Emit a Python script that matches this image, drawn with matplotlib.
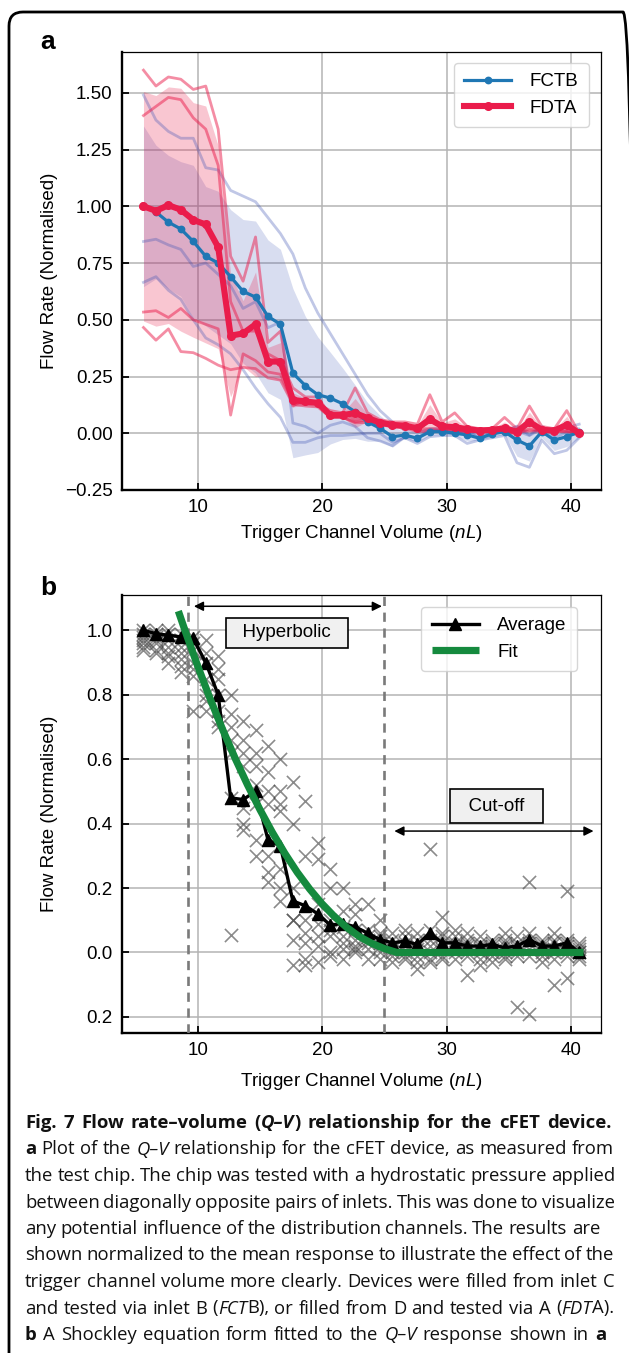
import matplotlib
matplotlib.use("Agg")
import matplotlib.pyplot as plt
import numpy as np
from matplotlib.patches import FancyBboxPatch
from matplotlib.transforms import IdentityTransform

# ---------------- data ----------------
volume = [5.65, 6.65, 7.65, 8.65, 9.65, 10.65, 11.65, 12.65, 13.65, 14.65, 15.65, 16.65,
          17.65, 18.65, 19.65, 20.65, 21.65, 22.65, 23.65, 24.65, 25.65, 26.65, 27.65, 28.65,
          29.65, 30.65, 31.65, 32.65, 33.65, 34.65, 35.65, 36.65, 37.65, 38.65, 39.65, 40.65]

# FCTB individual devices (panel a)
fctb_1 = [1.49, 1.38, 1.33, 1.30, 1.30, 1.17, 1.16, 1.07, 1.045, 1.02, 0.95, 0.88, 0.79, 0.64, 0.53, 0.44,
          0.35, 0.26, 0.17, 0.10, 0.05, 0.01, 0.0, 0.02, 0.02, 0.01, 0.01, -0.01, 0.0, 0.02, 0.01, -0.01,
          0.02, 0.02, 0.025, 0.04]
fctb_2 = [0.845, 0.855, 0.83, 0.81, 0.735, 0.75, 0.70, 0.65, 0.55, 0.58, 0.465, 0.49, 0.045, 0.03, 0.0,
          0.035, 0.05, 0.03, -0.02, -0.034, -0.055, -0.014, -0.021, 0.016, 0.011, 0.0, 0.014, -0.026,
          0.011, 0.011, 0.03, -0.008, 0.031, -0.02, 0.005, -0.005]
fctb_3 = [0.665, 0.69, 0.63, 0.59, 0.50, 0.42, 0.39, 0.35, 0.28, 0.20, 0.13, 0.07, -0.04, -0.04, -0.02,
          -0.01, -0.01, -0.005, 0.0, 0.0, -0.04, -0.02, -0.045, -0.015, -0.01, -0.01, -0.045, -0.03,
          -0.02, -0.01, -0.13, -0.15, -0.03, -0.09, -0.075, -0.02]

# FDTA individual devices (panel a)
fdta_1 = [1.60, 1.53, 1.57, 1.56, 1.515, 1.53, 1.34, 0.78, 0.67, 0.865, 0.40, 0.45, 0.12, 0.15, 0.13, 0.10,
          0.09, 0.20, 0.09, 0.06, 0.05, 0.05, 0.04, 0.17, 0.05, 0.09, 0.03, 0.02, 0.02, 0.07, 0.02, 0.12,
          0.03, 0.02, 0.10, 0.0]
fdta_2 = [1.40, 1.44, 1.48, 1.47, 1.39, 1.34, 1.18, 0.58, 0.45, 0.45, 0.35, 0.32, 0.20, 0.16, 0.16, 0.08,
          0.09, 0.06, 0.07, 0.05, 0.04, 0.03, 0.02, 0.05, 0.04, 0.01, 0.02, 0.01, 0.02, 0.01, 0.0, 0.05,
          0.01, 0.01, 0.03, 0.0]
fdta_3 = [0.534, 0.54, 0.51, 0.55, 0.50, 0.48, 0.46, 0.08, 0.35, 0.32, 0.27, 0.26, 0.14, 0.13, 0.13, 0.07,
          0.07, 0.05, 0.06, 0.04, 0.03, 0.03, 0.02, 0.02, 0.02, 0.0, 0.01, 0.01, 0.01, 0.0, 0.0, 0.02,
          0.01, 0.01, 0.01, 0.0]
fdta_4 = [0.466, 0.41, 0.46, 0.36, 0.355, 0.33, 0.30, 0.28, 0.29, 0.285, 0.244, 0.234, 0.128, 0.12, 0.116,
          0.07, 0.07, 0.046, 0.048, 0.038, 0.028, 0.022, 0.008, 0.008, 0.01, 0.008, 0.012, 0.008, 0.01,
          0.008, 0.008, 0.01, 0.01, 0.008, 0.008, 0.0]

# Panel b: normalised individual measurements (one list per device)
dev_1 = [1.0, 1.0, 1.0, 0.99, 0.98, 0.97, 0.92, 0.80, 0.72, 0.69, 0.64, 0.60, 0.53, 0.47, 0.34, 0.26, 0.20,
         0.15, 0.15, 0.10, 0.06, 0.05, 0.06, 0.32, 0.11, 0.07, 0.06, 0.05, 0.04, 0.06, 0.05, 0.22, 0.04,
         0.06, 0.19, 0.03]
dev_2 = [0.99, 0.98, 0.99, 0.97, 0.96, 0.93, 0.88, 0.74, 0.66, 0.62, 0.56, 0.50, 0.40, 0.30, 0.29, 0.20,
         0.13, 0.12, 0.07, 0.05, 0.04, 0.03, 0.04, 0.07, 0.06, 0.05, 0.04, 0.03, 0.03, 0.04, 0.03, 0.06,
         0.02, 0.03, 0.04, 0.02]
dev_3 = [0.98, 0.97, 0.97, 0.95, 0.94, 0.90, 0.85, 0.70, 0.62, 0.58, 0.50, 0.46, 0.20, 0.10, 0.15, 0.10,
         0.08, 0.07, 0.05, 0.03, 0.02, 0.02, 0.01, 0.04, 0.03, 0.03, 0.02, 0.02, 0.01, 0.02, 0.01, 0.03,
         0.01, 0.01, 0.02, 0.01]
dev_4 = [0.97, 0.96, 0.95, 0.93, 0.90, 0.85, 0.80, 0.66, 0.58, 0.52, 0.46, 0.44, 0.10, 0.06, 0.09, 0.07,
         0.05, 0.04, 0.03, 0.02, 0.0, 0.0, -0.01, 0.02, 0.01, 0.01, 0.0, 0.0, 0.0, 0.0, 0.0, 0.01, 0.0,
         0.0, 0.0, 0.0]
dev_5 = [0.96, 0.94, 0.93, 0.91, 0.88, 0.80, 0.75, 0.62, 0.45, 0.46, 0.30, 0.26, 0.04, 0.03, 0.05, 0.05,
         0.03, 0.02, 0.01, 0.0, -0.01, -0.01, -0.03, 0.0, -0.01, 0.0, -0.01, -0.02, -0.01, -0.01, -0.01,
         -0.01, -0.01, -0.02, -0.01, -0.01]
dev_6 = [0.95, 0.93, 0.92, 0.89, 0.86, 0.78, 0.72, 0.48, 0.40, 0.35, 0.25, 0.20, -0.04, -0.02, -0.03, 0.0,
         0.01, 0.0, -0.02, -0.02, -0.03, -0.02, -0.05, -0.02, -0.02, -0.02, -0.07, -0.04, -0.03, -0.02,
         -0.17, -0.19, -0.03, -0.10, -0.08, -0.02]
dev_7 = [0.94, 0.99, 0.90, 0.87, 0.75, 0.75, 0.70, 0.055, 0.38, 0.30, 0.22, 0.16, 0.10, -0.04, 0.02, -0.01,
         -0.02, 0.01, 0.04, 0.06, 0.01, 0.07, 0.02, -0.03, 0.05, 0.02, 0.03, 0.01, 0.02, 0.03, 0.02, 0.04,
         0.03, 0.04, 0.03, 0.0]

average_b = [1.0, 0.99, 0.985, 0.98, 0.975, 0.90, 0.80, 0.48, 0.475, 0.50, 0.35, 0.33, 0.16, 0.145, 0.12,
             0.085, 0.09, 0.08, 0.06, 0.04, 0.03, 0.035, 0.025, 0.06, 0.03, 0.03, 0.02, 0.02, 0.025, 0.015,
             0.02, 0.04, 0.02, 0.02, 0.03, 0.0]

fit_x = [8.45, 9, 10, 11, 12, 13, 14, 15, 16, 17, 18, 19, 20, 21, 22, 23, 24, 25, 26, 41]
fit_y = [1.06, 0.998, 0.89, 0.788, 0.693, 0.604, 0.521, 0.444, 0.373, 0.308, 0.249, 0.197, 0.151,
         0.111, 0.077, 0.049, 0.028, 0.012, 0.0, 0.0]

ticks_b = [-0.2, 0.0, 0.2, 0.4, 0.6, 0.8, 1.0]
ticklabels_b = ["0.2", "0.0", "0.2", "0.4", "0.6", "0.8", "1.0"]

# ---------------- style ----------------
plt.rcParams["font.family"] = ["Liberation Sans", "DejaVu Sans"]
plt.rcParams["mathtext.fontset"] = "custom"
plt.rcParams["mathtext.rm"] = "Liberation Sans"
plt.rcParams["mathtext.it"] = "Liberation Sans:italic"

BLUE = "#1f77b4"
RED = "#ea1c4b"
LAV = "#4055b5"
GREEN = "#158a3e"
FS = 13.5

W, H = 629, 1353
fig = plt.figure(figsize=(W / 100, H / 100), dpi=100)


def px_axes(left, top, right, bottom):
    return fig.add_axes([left / W, 1 - bottom / H, (right - left) / W, (bottom - top) / H])


def style(ax):
    ax.grid(True, color="#b4b4b4", lw=1.1)
    ax.set_axisbelow(True)
    for s in ["left", "bottom"]:
        ax.spines[s].set_linewidth(1.7)
    for s in ["top", "right"]:
        ax.spines[s].set_linewidth(0.9)
    ax.tick_params(direction="in", length=5, width=1.3, labelsize=FS, pad=6.5)


ax1 = px_axes(121.7, 52, 601, 490)
ax2 = px_axes(121.7, 595, 601, 1033)

# ---------------- panel a ----------------
x = np.array(volume)
fctb = np.array([fctb_1, fctb_2, fctb_3])
fdta = np.array([fdta_1, fdta_2, fdta_3, fdta_4])
fctb_mean, fctb_std = fctb.mean(axis=0), fctb.std(axis=0)
fdta_mean, fdta_std = fdta.mean(axis=0), fdta.std(axis=0)

ax1.fill_between(x, fctb_mean - fctb_std, fctb_mean + fctb_std, color=LAV, alpha=0.2, lw=0, zorder=1)
ax1.fill_between(x, fdta_mean - fdta_std, fdta_mean + fdta_std, color=RED, alpha=0.25, lw=0, zorder=1)
for tr in fctb:
    ax1.plot(x, tr, color=LAV, alpha=0.33, lw=2.0, zorder=2)
for tr in fdta:
    ax1.plot(x, tr, color=RED, alpha=0.5, lw=2.0, zorder=2)
l_b, = ax1.plot(x, fctb_mean, color=BLUE, lw=2.3, marker="o", ms=4.6, zorder=4, label="FCTB")
l_r, = ax1.plot(x, fdta_mean, color=RED, lw=4.4, marker="o", ms=5.5, zorder=5, label="FDTA")

style(ax1)
ax1.set_xlim(3.9, 42.4)
ax1.set_ylim(-0.25, 1.68)
ax1.set_yticks([-0.25, 0.0, 0.25, 0.5, 0.75, 1.0, 1.25, 1.5])
ax1.set_xticks([10, 20, 30, 40])
ax1.set_xlabel(r"Trigger Channel Volume $\it{(nL)}$", fontsize=FS)
ax1.set_ylabel("Flow Rate (Normalised)", fontsize=FS)
ax1.xaxis.set_label_coords(0.5, -(533.3 - 490) / 438)
ax1.xaxis.label.set_va("center")
ax1.yaxis.set_label_coords((50 - 121.7) / 479.3, 0.5)
ax1.yaxis.label.set_va("center")
ax1.legend(handles=[l_b, l_r], loc="upper right", bbox_to_anchor=(0.975, 0.975),
           borderaxespad=0, fontsize=FS, handlelength=2.5, handletextpad=1.0, numpoints=1,
           borderpad=0.55)

# ---------------- panel b ----------------
for dev in [dev_1, dev_2, dev_3, dev_4, dev_5, dev_6, dev_7]:
    ax2.scatter(x, dev, marker="x", s=90, color="#444444", alpha=0.62, linewidths=1.2, zorder=2)
l_avg, = ax2.plot(x, average_b, color="black", lw=2.4, marker="^", ms=9, zorder=4, label="Average")
l_fit, = ax2.plot(fit_x, fit_y, color=GREEN, lw=5.2, zorder=5, label="Fit", solid_capstyle="butt")

ax2.axvline(9.2, color="#7a7a7a", lw=1.9, ls=(0, (3.5, 2.5)), zorder=3)
ax2.axvline(25.0, color="#7a7a7a", lw=1.9, ls=(0, (3.5, 2.5)), zorder=3)
ax2.annotate("", xy=(24.8, 1.075), xytext=(9.7, 1.075),
             arrowprops=dict(arrowstyle="<|-|>", color="black", lw=1.1, mutation_scale=14,
                             shrinkA=0, shrinkB=0))
ax2.annotate("", xy=(41.8, 0.377), xytext=(25.8, 0.377),
             arrowprops=dict(arrowstyle="<|-|>", color="black", lw=1.1, mutation_scale=14,
                             shrinkA=0, shrinkB=0))
ax2.text(17.16, 0.993, "  Hyperbolic  ", ha="center", va="center", fontsize=FS, zorder=6,
         bbox=dict(boxstyle="square,pad=0.35", fc="#f0f0f0", ec="black", lw=1.2))
ax2.text(34.0, 0.454, "  Cut-off  ", ha="center", va="center", fontsize=FS, zorder=6,
         bbox=dict(boxstyle="square,pad=0.45", fc="#f0f0f0", ec="black", lw=1.2))

style(ax2)
ax2.set_xlim(3.9, 42.4)
ax2.set_ylim(-0.25, 1.11)
ax2.set_xticks([10, 20, 30, 40])
ax2.set_yticks(ticks_b)
ax2.set_yticklabels(ticklabels_b)
ax2.set_xlabel(r"Trigger Channel Volume $\it{(nL)}$", fontsize=FS)
ax2.set_ylabel("Flow Rate (Normalised)", fontsize=FS)
ax2.xaxis.set_label_coords(0.5, -(1081.7 - 1033) / 438)
ax2.xaxis.label.set_va("center")
ax2.yaxis.set_label_coords((50 - 121.7) / 479.3, 0.5)
ax2.yaxis.label.set_va("center")
ax2.legend(handles=[l_avg, l_fit], loc="upper right", bbox_to_anchor=(0.95, 0.973),
           borderaxespad=0, fontsize=FS, handlelength=2.5, handletextpad=1.0, numpoints=1,
           borderpad=0.55)

# panel letters
ident = IdentityTransform()
fig.text(48, H - 41.7, "a", transform=ident, fontsize=19, fontweight="bold", ha="center", va="center")
fig.text(48, H - 588, "b", transform=ident, fontsize=19, fontweight="bold", ha="center", va="center")

# frame (right and bottom edges fall outside the picture)
frame = FancyBboxPatch((9, -30), 628, H - 12 + 30, boxstyle="round,pad=0,rounding_size=14",
                       transform=ident, fc="none", ec="black", lw=2.0)
fig.add_artist(frame)

# ---------------- caption ----------------
N, B, I = ("normal", "normal"), ("bold", "normal"), ("normal", "italic")
BI = ("bold", "italic")
caption = [
    ([("Fig. 7 Flow rate\u2013volume (", B), ("Q\u2013V", BI), (") relationship for the cFET device.", B)], 1128, 611),
    ([("a", B), (" Plot of the ", N), ("Q\u2013V", I), (" relationship for the cFET device, as measured from", N)], 1154.5, 614),
    ([("the test chip. The chip was tested with a hydrostatic pressure applied", N)], 1181, 615),
    ([("between diagonally opposite pairs of inlets. This was done to visualize", N)], 1207.5, 615),
    ([("any potential influence of the distribution channels. The results are", N)], 1234, 600),
    ([("shown normalized to the mean response to illustrate the effect of the", N)], 1260.5, 614),
    ([("trigger channel volume more clearly. Devices were filled from inlet C", N)], 1287, 614),
    ([("and tested via inlet B (", N), ("FCT", I), ("B), or filled from D and tested via A (", N), ("FDT", I), ("A).", N)], 1313.5, 614),
    ([("b", B), (" A Shockley equation form fitted to the ", N), ("Q\u2013V", I), (" response shown in ", N), ("a", B)], 1340, 606),
]
CAP_FONT = ["Open Sans", "DejaVu Sans"]
renderer = fig.canvas.get_renderer()


def split_words(runs):
    words, cur = [], []
    for text, (w, s) in runs:
        parts = text.split(" ")
        for k, p in enumerate(parts):
            if k > 0 and cur:
                words.append(cur)
                cur = []
            if p:
                cur.append((p, w, s))
    if cur:
        words.append(cur)
    return words


def measure(piece, size):
    t = fig.text(0, 0, piece[0], fontsize=size, fontweight=piece[1], fontstyle=piece[2],
                 family=CAP_FONT, transform=ident)
    wd = t.get_window_extent(renderer).width
    t.remove()
    return wd


def space_w(size):
    return measure(("a a", "normal", "normal"), size) - measure(("aa", "normal", "normal"), size)


# font size: every line must fit with at least ~80% of a normal word space
ref = 10.0
sw = space_w(ref)
ratios = []
for runs, yb, xr in caption:
    words = split_words(runs)
    natural = sum(measure(p, ref) for wd in words for p in wd) + 0.8 * sw * (len(words) - 1)
    ratios.append((xr - 25) / natural)
CAP_SIZE = ref * min(ratios)

for runs, yb, xr in caption:
    words = split_words(runs)
    widths = [[measure(p, CAP_SIZE) for p in wd] for wd in words]
    total = sum(sum(w) for w in widths)
    gap = (xr - 25 - total) / max(len(words) - 1, 1)
    xc = 25
    for wd, ws in zip(words, widths):
        for p, pw in zip(wd, ws):
            fig.text(xc, H - yb, p[0], fontsize=CAP_SIZE, fontweight=p[1], fontstyle=p[2],
                     family=CAP_FONT, transform=ident, va="baseline", ha="left", color="#111111")
            xc += pw
        xc += gap

fig.savefig("out.png", dpi=100)
